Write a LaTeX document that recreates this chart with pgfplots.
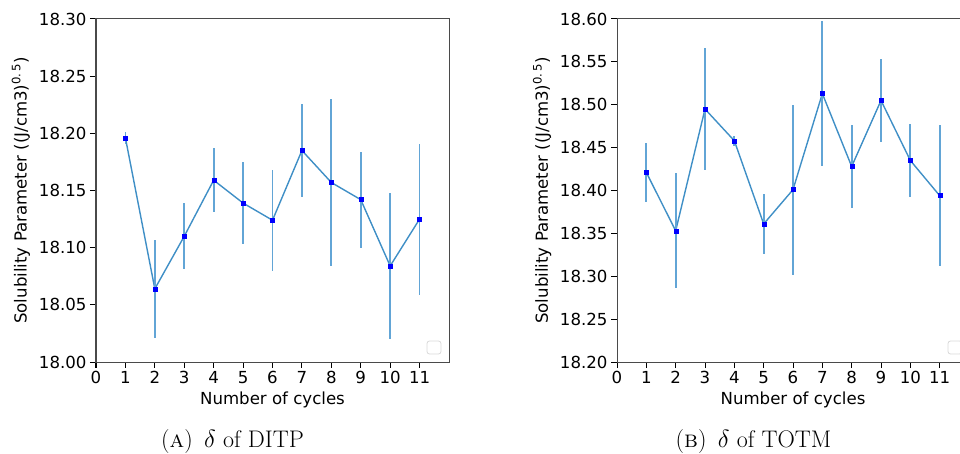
\documentclass[border=0pt]{standalone}
\usepackage{pgfplots}
\pgfplotsset{compat=1.18}
\usepackage{fontspec}
\setsansfont{DejaVu Sans}

\definecolor{lineblue}{HTML}{3F8FC6}
\definecolor{errblue}{HTML}{62A5D6}
\definecolor{frame}{HTML}{4A4A4A}

\pgfplotsset{
  cyclestyle/.style={
    scale only axis,
    anchor=south west,
    xmin=0, xmax=12,
    xtick={0,1,...,11},
    axis line style={draw=frame, line width=1pt},
    xtick pos=left, ytick pos=left,
    tick align=outside,
    major tick length=6pt,
    tick style={black, line width=1pt},
    tick label style={font=\sffamily\fontsize{16.6}{18}\selectfont, black},
    /pgf/number format/assume math mode=true,
    yticklabel style={/pgf/number format/.cd, fixed, fixed zerofill, precision=2},
    label style={font=\sffamily\fontsize{16.6}{18}\selectfont},
    xlabel={Number of cycles},
    ylabel={Solubility Parameter ((J/cm3)\textsuperscript{0.\,5})},
    xlabel style={at={(axis description cs:0.5,-0.11)}, anchor=center},
    ylabel style={at={(axis description cs:-0.2125,0.5)}, anchor=center},
  },
  cycleplot/.style={
    color=lineblue, line width=1.4pt,
    mark=square*, mark size=2pt,
    mark options={fill=blue, draw=blue, line width=0.3pt},
    error bars/.cd, y dir=both, y explicit,
    error mark=none,
    error bar style={color=errblue, line width=1.8pt},
  },
}

\begin{document}
\begin{tikzpicture}
\useasboundingbox (0,0) rectangle (960pt,453pt);
\clip (0,0) rectangle (960pt,453pt);

% delta of DITP
\begin{axis}[cyclestyle,
  at={(96pt,91pt)}, width=353pt, height=343pt,
  ymin=18.00, ymax=18.30,
  ytick={18.00,18.05,18.10,18.15,18.20,18.25,18.30}]
\addplot[cycleplot] table[x=n, y=d, y error=e] {
n  d       e
1  18.196  0.005
2  18.064  0.043
3  18.110  0.029
4  18.159  0.028
5  18.139  0.036
6  18.124  0.044
7  18.185  0.041
8  18.157  0.073
9  18.142  0.042
10 18.084  0.064
11 18.125  0.066
};
\end{axis}

% delta of TOTM
\begin{axis}[cyclestyle,
  at={(617pt,91pt)}, width=352pt, height=343pt,
  ymin=18.20, ymax=18.60,
  ytick={18.20,18.25,18.30,18.35,18.40,18.45,18.50,18.55,18.60}]
\addplot[cycleplot] table[x=n, y=d, y error=e] {
n  d       e
1  18.421  0.034
2  18.353  0.067
3  18.495  0.071
4  18.458  0.006
5  18.361  0.035
6  18.401  0.099
7  18.513  0.085
8  18.428  0.048
9  18.505  0.048
10 18.435  0.043
11 18.394  0.082
};
\end{axis}

% empty legend frames
\draw[draw=black!15, fill=white, line width=0.8pt, rounded corners=2.5pt]
  (427pt,99pt) rectangle (441pt,112pt);
\draw[draw=black!15, fill=white, line width=0.8pt, rounded corners=2.5pt]
  (948pt,99pt) rectangle (962pt,112pt);

% sub-captions
\node[anchor=base, inner sep=0pt, font=\fontsize{24}{28}\selectfont] at (232.5pt,6pt)
  {(\textsc{a})\, $\delta$ of DITP};
\node[anchor=base, inner sep=0pt, font=\fontsize{24}{28}\selectfont] at (753.5pt,6pt)
  {(\textsc{b})\, $\delta$ of TOTM};
\end{tikzpicture}
\end{document}
